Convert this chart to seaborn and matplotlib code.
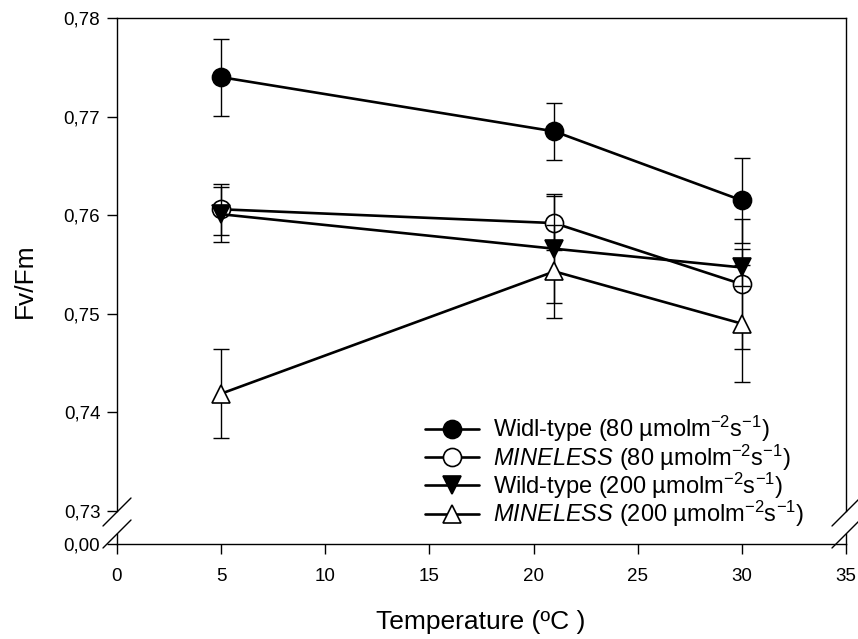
import matplotlib
matplotlib.use("Agg")
import matplotlib.pyplot as plt
import seaborn as sns
import pandas as pd
from matplotlib.lines import Line2D

# ---------------- data ----------------
temperature = [5, 21, 30]
wt80 = [0.7740, 0.7685, 0.7615]
wt80_err = [0.0039, 0.0029, 0.0043]
mi80 = [0.7606, 0.7592, 0.7530]
mi80_err = [0.0026, 0.0027, 0.0066]
wt200 = [0.7601, 0.7566, 0.7547]
wt200_err = [0.0028, 0.0055, 0.0019]
mi200 = [0.7419, 0.7543, 0.7490]
mi200_err = [0.0045, 0.0047, 0.0059]

series_labels = [
    r"Widl-type (80 µmolm$^{-2}$s$^{-1}$)",
    r"$\mathit{MINELESS}$ (80 µmolm$^{-2}$s$^{-1}$)",
    r"Wild-type (200 µmolm$^{-2}$s$^{-1}$)",
    r"$\mathit{MINELESS}$ (200 µmolm$^{-2}$s$^{-1}$)",
]
x_ticks = [0, 5, 10, 15, 20, 25, 30, 35]
y_ticks = [0.73, 0.74, 0.75, 0.76, 0.77, 0.78]
y_tick_labels = ["0,73", "0,74", "0,75", "0,76", "0,77", "0,78"]
x_label = "Temperature (ºC )"
y_label = "Fv/Fm"

# ---------------- style ----------------
sns.set_theme(style="ticks")
plt.rcParams["font.family"] = ["Liberation Sans", "DejaVu Sans"]
plt.rcParams["mathtext.fontset"] = "custom"
plt.rcParams["mathtext.rm"] = "Liberation Sans"
plt.rcParams["mathtext.it"] = "Liberation Sans:italic"
plt.rcParams["mathtext.bf"] = "Liberation Sans:bold"
plt.rcParams["text.color"] = "black"
plt.rcParams["axes.labelcolor"] = "black"
plt.rcParams["xtick.color"] = "black"
plt.rcParams["ytick.color"] = "black"

W, H = 858, 639
fig = plt.figure(figsize=(W / 100, H / 100), dpi=100)

def fx(px):
    return px / W

def fy(py):
    return 1 - py / H

x_left, x_right = 117, 846
y_top, y_break_top = 18, 511
y_break_bot, y_zero = 534, 544

ax = fig.add_axes([fx(x_left), fy(y_break_top), fx(x_right) - fx(x_left), fy(y_top) - fy(y_break_top)])
axb = fig.add_axes([fx(x_left), fy(y_zero), fx(x_right) - fx(x_left), fy(y_break_bot) - fy(y_zero)], sharex=ax)

df = pd.DataFrame({
    "T": temperature * 4,
    "v": wt80 + mi80 + wt200 + mi200,
    "e": wt80_err + mi80_err + wt200_err + mi200_err,
    "s": sum([[lab] * 3 for lab in series_labels], []),
})

markers = ["o", "o", "v", "^"]
faces = ["black", "white", "black", "white"]
handles = []
for i, lab in enumerate(series_labels):
    d = df[df["s"] == lab]
    ax.errorbar(d["T"], d["v"], yerr=d["e"], fmt="none", ecolor="black",
                elinewidth=1.0, capsize=5.5, capthick=1.0, zorder=2 + 2 * i)
    sns.lineplot(data=d, x="T", y="v", ax=ax, color="black", lw=1.9,
                 marker=markers[i], markersize=13, markerfacecolor=faces[i],
                 markeredgecolor="black", markeredgewidth=1.2,
                 estimator=None, errorbar=None, zorder=3 + 2 * i, legend=False)
    handles.append(Line2D([], [], color="black", lw=1.9, marker=markers[i],
                          markersize=13, markerfacecolor=faces[i],
                          markeredgecolor="black", markeredgewidth=1.2))

ax.set_ylim(0.73, 0.78)
ax.set_xlim(0, 35)
ax.set_yticks(y_ticks)
ax.set_yticklabels(y_tick_labels)
ax.set_xlabel("")
ax.set_ylabel("")
ax.spines["bottom"].set_visible(False)
ax.tick_params(axis="x", bottom=False, labelbottom=False)
ax.tick_params(axis="y", direction="out", length=7, width=1.0, pad=5, labelsize=13.5, colors="black")
for sp in ["left", "right", "top"]:
    ax.spines[sp].set_linewidth(1.0)
    ax.spines[sp].set_color("black")

axb.set_ylim(0, 1)
axb.set_yticks([0])
axb.set_yticklabels(["0,00"])
axb.set_xticks(x_ticks)
axb.set_xticklabels([str(t) for t in x_ticks])
axb.set_xlabel("")
axb.set_ylabel("")
axb.spines["top"].set_visible(False)
for sp in ["left", "right", "bottom"]:
    axb.spines[sp].set_linewidth(1.0)
    axb.spines[sp].set_color("black")
axb.tick_params(axis="y", direction="out", length=7, width=1.0, pad=5, labelsize=13.5, colors="black")
axb.tick_params(axis="x", direction="out", length=7, width=1.0, pad=10, labelsize=13.5, colors="black")
axb.patch.set_alpha(0)

# break marks
for xc in (x_left, x_right):
    for yc in (512, 534):
        fig.add_artist(Line2D([fx(xc - 14), fx(xc + 14)], [fy(yc + 14), fy(yc - 14)],
                              color="black", lw=1.0, transform=fig.transFigure))

fig.text(fx(25), fy(281), y_label, rotation=90, ha="center", va="center", fontsize=19, color="black")
fig.text(fx(481), fy(622), x_label, ha="center", va="center", fontsize=19, color="black")

leg = ax.legend(handles, series_labels, loc="upper left", bbox_to_anchor=(fx(425), fy(414)),
                bbox_transform=fig.transFigure, frameon=False, fontsize=17,
                borderpad=0, borderaxespad=0, handlelength=2.3, handletextpad=0.6,
                labelspacing=-0.08)
for t in leg.get_texts():
    t.set_color("black")
leg.set_zorder(20)

fig.savefig("out.png", dpi=100)
